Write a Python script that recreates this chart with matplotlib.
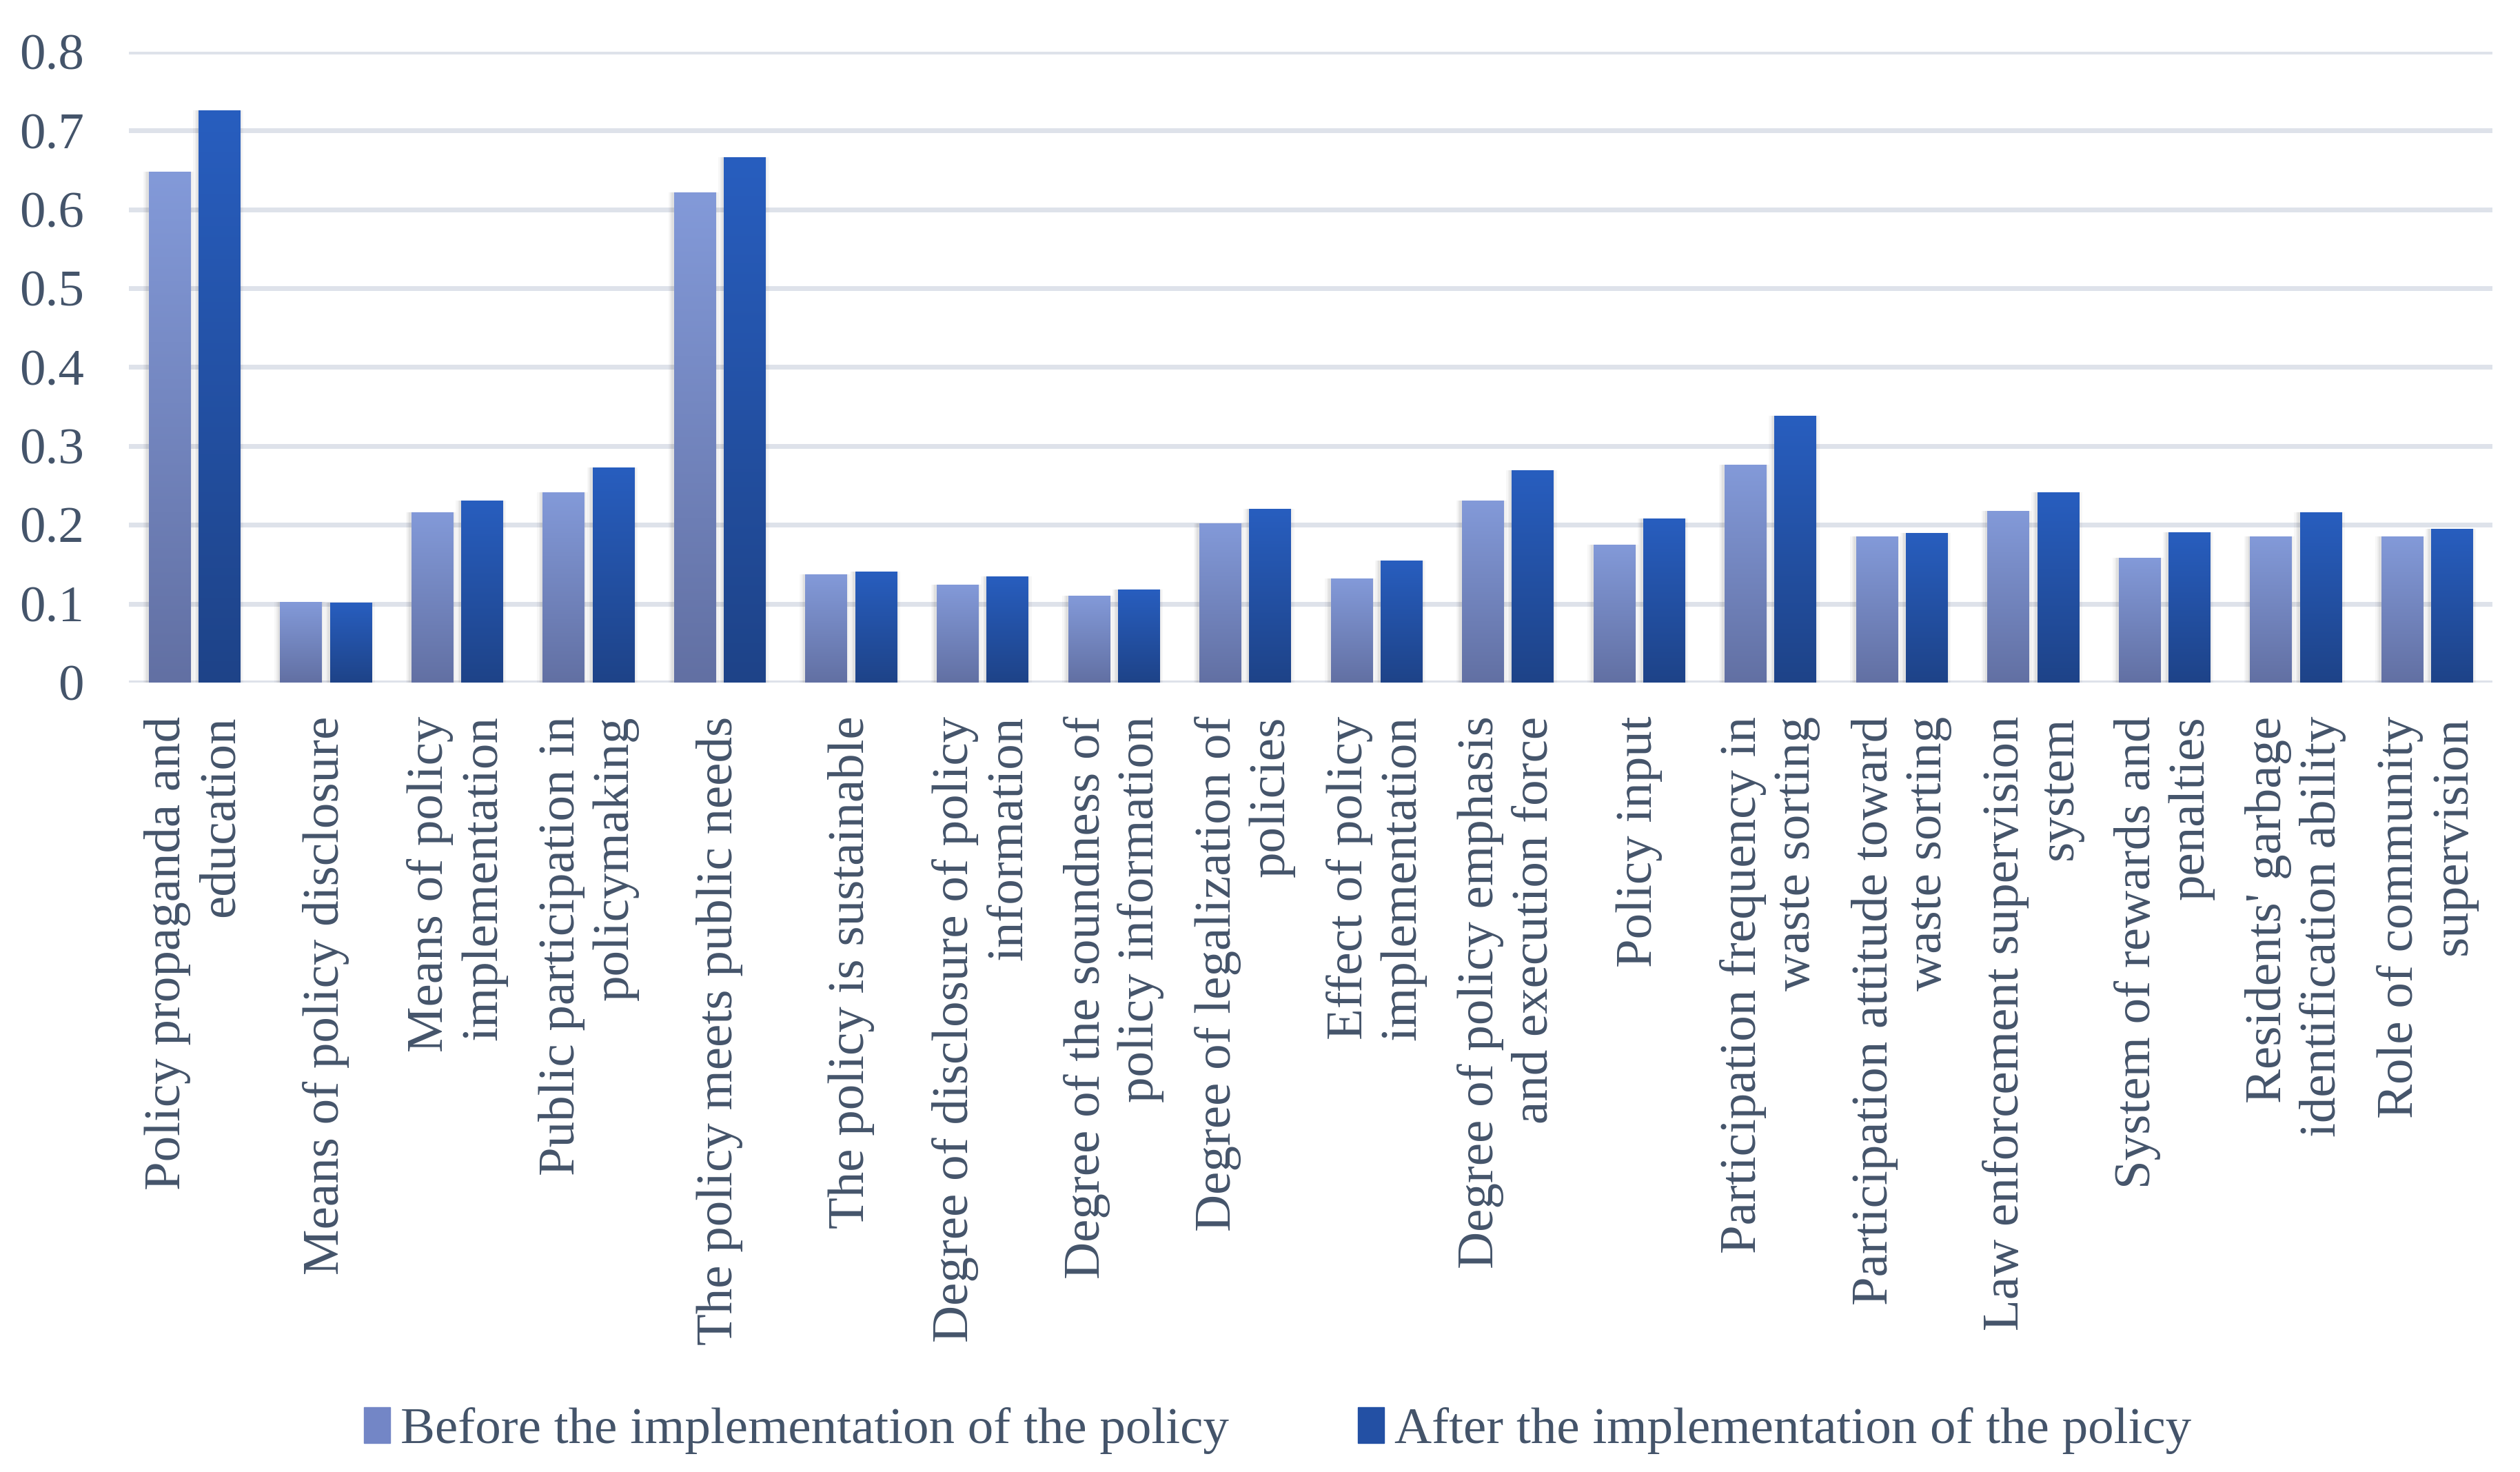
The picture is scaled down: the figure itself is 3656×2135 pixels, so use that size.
import numpy as np
import matplotlib
matplotlib.use('Agg')
import matplotlib.pyplot as plt
from matplotlib.colors import LinearSegmentedColormap
from matplotlib.patches import Patch

categories = [
    "Policy propaganda and\neducation",
    "Means of policy disclosure",
    "Means of policy\nimplementation",
    "Public participation in\npolicymaking",
    "The policy meets public needs",
    "The policy is sustainable",
    "Degree of disclosure of policy\ninformation",
    "Degree of the soundness of\npolicy information",
    "Degree of legalization of\npolicies",
    "Effect of policy\nimplementation",
    "Degree of policy emphasis\nand execution force",
    "Policy input",
    "Participation frequency in\nwaste sorting",
    "Participation attitude toward\nwaste sorting",
    "Law enforcement supervision\nsystem",
    "System of rewards and\npenalties",
    "Residents' garbage\nidentification ability",
    "Role of community\nsupervision",
]
before = [0.648, 0.102, 0.216, 0.241, 0.622, 0.137, 0.124, 0.110, 0.202,
          0.132, 0.231, 0.175, 0.276, 0.185, 0.218, 0.158, 0.185, 0.185]
after = [0.726, 0.101, 0.231, 0.273, 0.666, 0.141, 0.135, 0.118, 0.220,
         0.155, 0.269, 0.208, 0.338, 0.190, 0.241, 0.191, 0.216, 0.195]
series_names = ["Before the implementation of the policy",
                "After the implementation of the policy"]
yticks = [0, 0.1, 0.2, 0.3, 0.4, 0.5, 0.6, 0.7, 0.8]
ytick_labels = ["0", "0.1", "0.2", "0.3", "0.4", "0.5", "0.6", "0.7", "0.8"]

plt.rcParams['font.family'] = ['Liberation Serif', 'DejaVu Serif']
txt = '#44546a'
fs = 54

fig = plt.figure(figsize=(36.56, 21.35), dpi=100)
ax = fig.add_axes([0.0511, 0.5363, 0.938, 0.4286])

x = np.arange(len(categories))
w = 0.315
off = 0.19

cm_before = LinearSegmentedColormap.from_list('before', ['#6270a3', '#839ad9'])
cm_after = LinearSegmentedColormap.from_list('after', ['#1e4388', '#285ebf'])
grad = np.linspace(0, 1, 256).reshape(-1, 1)

for vals, dx, cmap in [(before, -off, cm_before), (after, off, cm_after)]:
    # soft shadow behind the bars
    for k, a in [(0.035, 0.03), (0.022, 0.04), (0.011, 0.05)]:
        ax.bar(x + dx - 0.008, vals, w + 2 * k, color='black', alpha=a,
               zorder=2, linewidth=0)
    bars = ax.bar(x + dx, vals, w, color='none', zorder=3, linewidth=0)
    for b in bars:
        im = ax.imshow(grad, cmap=cmap, origin='lower', aspect='auto',
                       extent=(b.get_x(), b.get_x() + b.get_width(), 0, b.get_height()),
                       zorder=3)
        im.set_clip_path(b)

ax.set_xlim(-0.5, len(categories) - 0.5)
ax.set_ylim(0, 0.8)
ax.set_aspect('auto')
ax.set_yticks(yticks)
ax.set_yticklabels(ytick_labels)
ax.yaxis.grid(True, color='#dee2ea', linewidth=5)
ax.set_axisbelow(True)
for s in ax.spines.values():
    s.set_visible(False)

ax.set_xticks(x)
ax.set_xticklabels(categories, rotation=90, ha='center', va='top',
                   multialignment='right')
ax.tick_params(axis='y', length=0, pad=47, labelsize=fs, labelcolor=txt)
ax.tick_params(axis='x', length=0, pad=35, labelsize=fs, labelcolor=txt)

handles = [Patch(color='#7386c6'), Patch(color='#2350a4')]
fig.legend(handles, series_names, loc='center', bbox_to_anchor=(0.507, 0.028),
           ncol=2, frameon=False, fontsize=fs, labelcolor=txt,
           handlelength=0.5, handleheight=0.7, handletextpad=0.2,
           columnspacing=2.5)

fig.savefig('out.png', dpi=100)
